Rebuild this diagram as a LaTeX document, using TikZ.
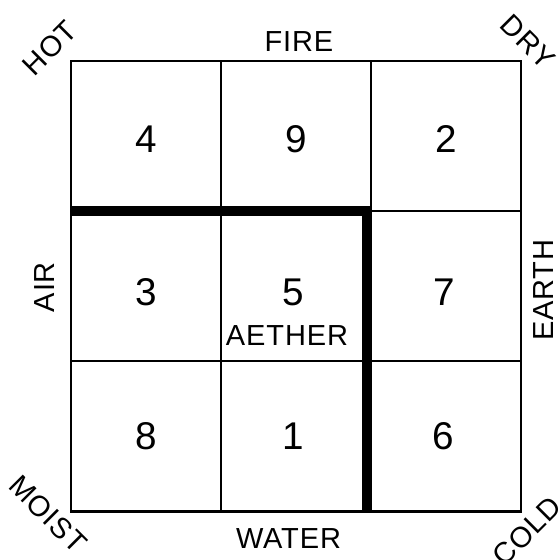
\documentclass[tikz,border=0pt]{standalone}
\usepackage{fontspec}
\usepackage{tikz}
\newfontfamily\lettering[LetterSpace=3]{Liberation Sans}

\begin{document}
\begin{tikzpicture}[x=3cm,y=3cm,
grid/.style={line width=1.6pt,line join=miter,line cap=rect},
bar/.style={line width=5.6pt,line join=miter},
num/.style={font=\lettering\fontsize{22}{24}\selectfont,inner sep=0pt,text depth=0pt},
lab/.style={font=\lettering\fontsize{16.5}{18}\selectfont,inner sep=0pt,text depth=0pt}]
\useasboundingbox (-0.473,-0.32) rectangle (3.26,3.407);
% magic square grid
\draw[grid] (0,0) rectangle (3,3);
\draw[grid] (1,0)--(1,3) (2,0)--(2,3) (0,1)--(3,1) (0,2)--(3,2);
\draw[bar] (0,2)--(1.975,2)--(1.975,0);
% numbers
\node[num] (n4) at (0.5,2.48) {4};
\node[num] (n9) at (1.5,2.48) {9};
\node[num] (n2) at (2.5,2.48) {2};
\node[num] (n3) at (0.5,1.46) {3};
\node[num] (n5) at (1.48,1.46) {5};
\node[num] (n7) at (2.49,1.46) {7};
\node[num] (n8) at (0.5,0.5) {8};
\node[num] (n1) at (1.48,0.5) {1};
\node[num] (n6) at (2.48,0.5) {6};
\node[lab] (aether) at (1.44,1.173) {AETHER};
% elements and qualities
\node[lab] (fire) at (1.52,3.127) {FIRE};
\node[lab] (water) at (1.45,-0.18) {WATER};
\node[lab,rotate=90] (air) at (-0.173,1.493) {AIR};
\node[lab,rotate=90] (earth) at (3.147,1.473) {EARTH};
\node[lab,rotate=45] (hot) at (-0.14,3.087) {HOT};
\node[lab,rotate=-45] (dry) at (3.047,3.127) {DRY};
\node[lab,rotate=-45] (moist) at (-0.153,-0.02) {MOIST};
\node[lab,rotate=45] (cold) at (3.04,-0.133) {COLD};
\end{tikzpicture}
\end{document}
